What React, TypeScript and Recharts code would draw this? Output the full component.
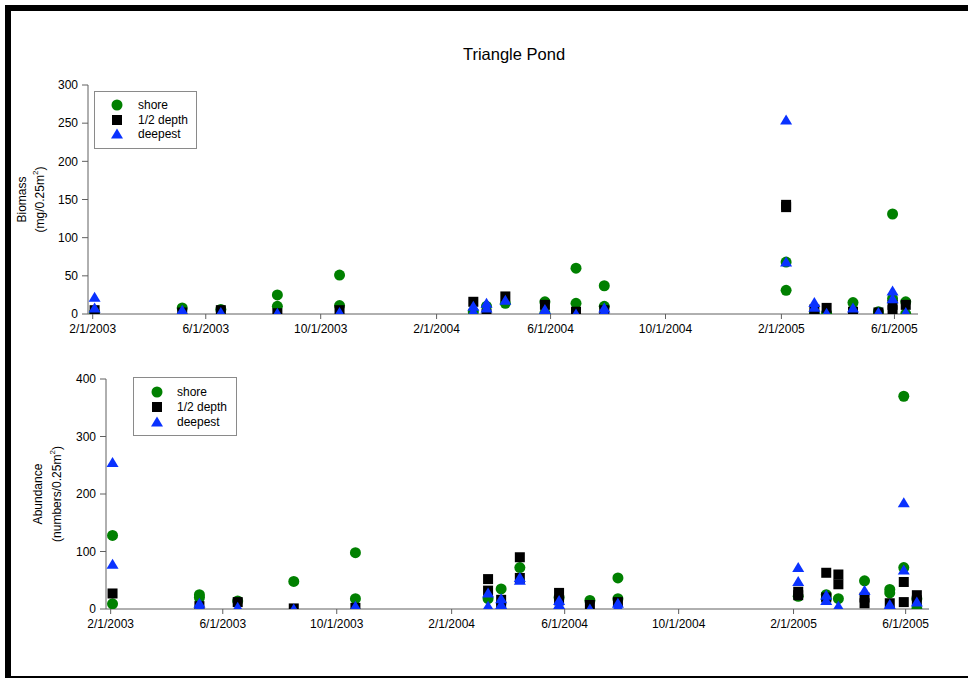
import React from 'react';
import { ScatterChart, Scatter, XAxis, YAxis, Legend, Label } from 'recharts';

// ---------- data ----------
const sampleDates = [
  '2003-02-03', '2003-05-07', '2003-06-17', '2003-08-16', '2003-10-21',
  '2004-03-11', '2004-03-25', '2004-04-14', '2004-05-26', '2004-06-28', '2004-07-28',
  '2005-02-06', '2005-03-08', '2005-03-21', '2005-04-18', '2005-05-15', '2005-05-30', '2005-06-13',
];

const tickDates = ['2003-02-01', '2003-06-01', '2003-10-01', '2004-02-01', '2004-06-01', '2004-10-01', '2005-02-01', '2005-06-01'];
const domainDates = ['2003-01-27', '2005-06-26'];

const biomassTicks = [0, 50, 100, 150, 200, 250, 300];
const abundanceTicks = [0, 100, 200, 300, 400];

// replicate values per sample date
const biomassShore = [[2], [8], [6], [25, 10], [51, 11], [3], [10], [14], [16, 1], [60, 14], [37, 10], [68, 31], [0], [1], [15], [3], [131, 20], [16, 0]];
const biomassHalf = [[5], [2], [5], [1], [5], [16], [0], [23], [12], [3], [5], [143, 140], [6], [8], [3], [2], [12, 5], [12]];
const biomassDeep = [[22, 8], [5, 1], [2], [1], [2], [10, 3], [14, 8], [18], [6], [0], [8, 3], [254, 68], [15, 9], [1], [8], [2], [30, 20], [2]];

const abundShore = [[128, 9], [25, 20], [14], [48], [98, 18], [18], [35], [72], [20], [15], [54, 18], [22], [25, 18], [18], [49], [34, 28], [370, 72], [0, 18]];
const abundHalf = [[27], [5], [12], [1], [2], [52, 32], [16, 5], [90, 54], [28, 15], [7], [12], [30, 24], [63, 20], [60, 43], [20, 10], [10], [47, 12], [24, 15]];
const abundDeep = [[255, 78], [10, 5], [3], [0], [5], [28, 5], [18, 8], [55, 50], [15, 8], [0], [10, 4], [72, 48], [24, 15], [5], [32], [8, 5], [185, 68], [12]];

// ---------- helpers ----------
const toDay = (s: string) => {
  const [y, m, d] = s.split('-').map(Number);
  return Date.UTC(y, m - 1, d) / 86400000;
};
const fmtDay = (v: number) => {
  const dt = new Date(Math.round(v) * 86400000);
  return `${dt.getUTCMonth() + 1}/${dt.getUTCDate()}/${dt.getUTCFullYear()}`;
};
const toPoints = (vals: number[][]) =>
  sampleDates.flatMap((d, i) => vals[i].map((v) => ({ x: toDay(d), y: v })));

const xTicks = tickDates.map(toDay);
const xDomain = domainDates.map(toDay);

const GREEN = '#008000';
const BLACK = '#000000';
const BLUE = '#0a32ff';
const AXIS = '#606060';
const FONT = 'Arial, "Liberation Sans", sans-serif';

const CircleShape = (p: any) => <circle cx={p.cx} cy={p.cy} r={5.5} fill={GREEN} />;
const SquareShape = (p: any) => <rect x={p.cx - 5} y={p.cy - 5} width={10} height={10} fill={BLACK} />;
const TriShape = (p: any) => (
  <polygon points={`${p.cx},${p.cy - 5.5} ${p.cx + 6},${p.cy + 4.5} ${p.cx - 6},${p.cy + 4.5}`} fill={BLUE} />
);

const LegendBox = ({ mx, tx, rows }: { mx: number; tx: number; rows: number[] }) => {
  const items = [
    { name: 'shore', kind: 'c' },
    { name: '1/2 depth', kind: 's' },
    { name: 'deepest', kind: 't' },
  ];
  return (
    <div style={{ width: '100%', height: '100%', boxSizing: 'border-box', border: '1px solid #8a8a8a', background: '#fff' }}>
      <svg width="100%" height="100%" style={{ display: 'block', overflow: 'visible' }}>
        {items.map((it, i) => {
          const y = rows[i] - 1;
          const x = mx - 1;
          return (
            <g key={it.name}>
              {it.kind === 'c' && <circle cx={x} cy={y} r={5.5} fill={GREEN} />}
              {it.kind === 's' && <rect x={x - 5} y={y - 5} width={10} height={10} fill={BLACK} />}
              {it.kind === 't' && <polygon points={`${x},${y - 5.5} ${x + 6},${y + 4.5} ${x - 6},${y + 4.5}`} fill={BLUE} />}
              <text x={tx - 1} y={y} dy="0.35em" fontSize={12} fill="#000" fontFamily={FONT}>
                {it.name}
              </text>
            </g>
          );
        })}
      </svg>
    </div>
  );
};

const makeYLabel = (line1: string, line2: string, x1: number, x2: number) => (props: any) => {
  const vb = props.viewBox || {};
  const cy = (vb.y ?? 0) + (vb.height ?? 0) / 2;
  return (
    <g>
      <text x={x1} y={cy} transform={`rotate(-90 ${x1} ${cy})`} textAnchor="middle" dominantBaseline="central" fontSize={12} fill="#000" fontFamily={FONT}>
        {line1}
      </text>
      <text x={x2} y={cy} transform={`rotate(-90 ${x2} ${cy})`} textAnchor="middle" dominantBaseline="central" fontSize={12} fill="#000" fontFamily={FONT}>
        {line2}
        <tspan dy={-5} fontSize={8}>2</tspan>
        <tspan dy={5}>)</tspan>
      </text>
    </g>
  );
};

const tickStyle = { fontSize: 12, fill: '#000', fontFamily: FONT };

export default function App() {
  return (
    <div style={{ position: 'absolute', left: 0, top: 0, width: 968, height: 678, background: '#fff', fontFamily: FONT, overflow: 'hidden' }}>
      {/* frame */}
      <div style={{ position: 'absolute', left: 5, top: 5, width: 963, height: 6, background: '#000' }} />
      <div style={{ position: 'absolute', left: 5, top: 5, width: 6, height: 673, background: '#000' }} />
      <div style={{ position: 'absolute', left: 5, top: 676, width: 963, height: 2, background: '#000' }} />

      <div style={{ position: 'absolute', left: 0, top: 44, width: 1028, textAlign: 'center', fontSize: 16.5, lineHeight: '20px', color: '#000' }}>
        Triangle Pond
      </div>

      {/* Biomass */}
      <div style={{ position: 'absolute', left: 0, top: 0 }}>
        <ScatterChart width={968} height={340} margin={{ top: 85, right: 50, bottom: 0, left: 28 }} style={{ fontFamily: FONT }}>
          <XAxis dataKey="x" type="number" domain={xDomain} ticks={xTicks} tickFormatter={fmtDay} allowDataOverflow
            height={26} tickSize={5} tickMargin={5} tick={tickStyle} stroke={AXIS} interval={0} />
          <XAxis xAxisId="top" orientation="top" type="number" domain={xDomain} height={0} tick={false} tickLine={false} stroke={AXIS} />
          <YAxis dataKey="y" type="number" domain={[0, 300]} ticks={biomassTicks} allowDataOverflow width={60}
            tickSize={6} tickMargin={4} tick={tickStyle} stroke={AXIS} interval={0}>
            <Label content={makeYLabel('Biomass', '(mg/0.25m', 22, 40)} />
          </YAxis>
          <YAxis yAxisId="right" orientation="right" type="number" domain={[0, 300]} width={0} tick={false} tickLine={false} stroke={AXIS} />
          <Legend layout="vertical" align="center" verticalAlign="middle"
            wrapperStyle={{ left: 94, top: 91, width: 103, height: 58 }}
            content={() => <LegendBox mx={23} tx={44} rows={[14, 29, 43]} />} />
          <Scatter name="shore" data={toPoints(biomassShore)} shape={CircleShape} isAnimationActive={false} />
          <Scatter name="1/2 depth" data={toPoints(biomassHalf)} shape={SquareShape} isAnimationActive={false} />
          <Scatter name="deepest" data={toPoints(biomassDeep)} shape={TriShape} isAnimationActive={false} />
        </ScatterChart>
      </div>

      {/* Abundance */}
      <div style={{ position: 'absolute', left: 0, top: 340 }}>
        <ScatterChart width={968} height={338} margin={{ top: 39, right: 39, bottom: 39, left: 46 }} style={{ fontFamily: FONT }}>
          <XAxis dataKey="x" type="number" domain={xDomain} ticks={xTicks} tickFormatter={fmtDay} allowDataOverflow
            height={30} tickSize={5} tickMargin={5} tick={tickStyle} stroke={AXIS} interval={0} />
          <XAxis xAxisId="top" orientation="top" type="number" domain={xDomain} height={0} tick={false} tickLine={false} stroke={AXIS} />
          <YAxis dataKey="y" type="number" domain={[0, 400]} ticks={abundanceTicks} allowDataOverflow width={60}
            tickSize={6} tickMargin={4} tick={tickStyle} stroke={AXIS} interval={0}>
            <Label content={makeYLabel('Abundance', '(numbers/0.25m', 38, 57)} />
          </YAxis>
          <YAxis yAxisId="right" orientation="right" type="number" domain={[0, 400]} width={0} tick={false} tickLine={false} stroke={AXIS} />
          <Legend layout="vertical" align="center" verticalAlign="middle"
            wrapperStyle={{ left: 133, top: 37, width: 104, height: 59 }}
            content={() => <LegendBox mx={24} tx={44} rows={[15, 30, 45]} />} />
          <Scatter name="shore" data={toPoints(abundShore)} shape={CircleShape} isAnimationActive={false} />
          <Scatter name="1/2 depth" data={toPoints(abundHalf)} shape={SquareShape} isAnimationActive={false} />
          <Scatter name="deepest" data={toPoints(abundDeep)} shape={TriShape} isAnimationActive={false} />
        </ScatterChart>
      </div>
    </div>
  );
}
